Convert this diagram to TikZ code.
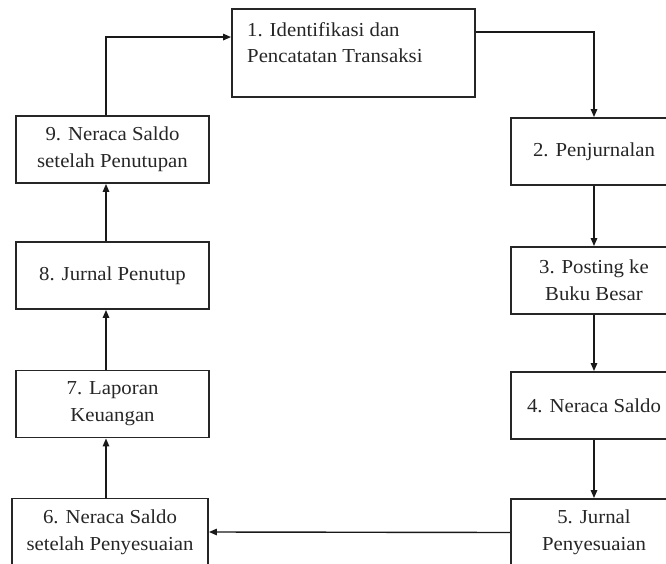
\documentclass[tikz,border=0pt]{standalone}
\usepackage{fontspec}
\setmainfont{Liberation Serif}[FakeStretch=1.05]
\usetikzlibrary{arrows.meta,calc}
\begin{document}
\begin{tikzpicture}[x=1pt,y=-1pt,
  box/.style={draw=black!85, line width=1.9pt, minimum width=193pt, minimum height=67pt, inner sep=0pt, align=center, text=black!85, font=\fontsize{19.8}{27}\selectfont},
  rbox/.style={box, minimum width=166pt},
  txt/.style={inner sep=0pt, align=left, text=black!85, font=\fontsize{19.8}{26}\selectfont},
  arr/.style={draw=black!90, line width=1.4pt, -{Triangle[length=8pt,width=6.5pt]}}]
\useasboundingbox (0,0) rectangle (666,564);
\clip (0,0) rectangle (666,564);
\node[box, minimum width=243pt, minimum height=88pt] (b1) at (353.5,53) {};
\node[txt, anchor=base west] (t1) at (247,37) {1. Identifikasi dan};
\node[txt, anchor=base west] (t1b) at (247,63) {Pencatatan Transaksi};
\node[rbox] (b2) at (594,151.5) {2. Penjurnalan};
\node[rbox] (b3) at (594,280.5) {3. Posting ke\\Buku Besar};
\node[rbox] (b4) at (594,405.5) {4. Neraca Saldo};
\node[rbox] (b5) at (594,532.5) {5. Jurnal\\Penyesuaian};
\node[box, minimum width=196pt] (b6) at (110,532) {6. Neraca Saldo\\setelah Penyesuaian};
\node[box] (b7) at (112.5,404) {7. Laporan\\Keuangan};
\node[box] (b8) at (112.5,275.5) {8. Jurnal Penutup};
\node[box] (b9) at (112.5,149.5) {9. Neraca Saldo\\setelah Penutupan};
\coordinate (c9) at ([xshift=-6.5pt]b9.north);
\coordinate (c1in) at ([yshift=-29pt]b1.north west);
\coordinate (c1out) at ([yshift=-24pt]b1.north east);
\draw[arr] (c9) |- (c1in);
\draw[arr] (c1out) -| (b2.north);
\draw[arr] (b2.south) -- (b3.north);
\draw[arr] (b3.south) -- (b4.north);
\draw[arr] (b4.south) -- (b5.north);
\draw[arr] (b5.west) -- (b6.east);
\draw[arr] ([xshift=-4pt]b6.north) -- ([xshift=-6.5pt]b7.south);
\draw[arr] ([xshift=-6.5pt]b7.north) -- ([xshift=-6.5pt]b8.south);
\draw[arr] ([xshift=-6.5pt]b8.north) -- ([xshift=-6.5pt]b9.south);
\end{tikzpicture}
\end{document}
